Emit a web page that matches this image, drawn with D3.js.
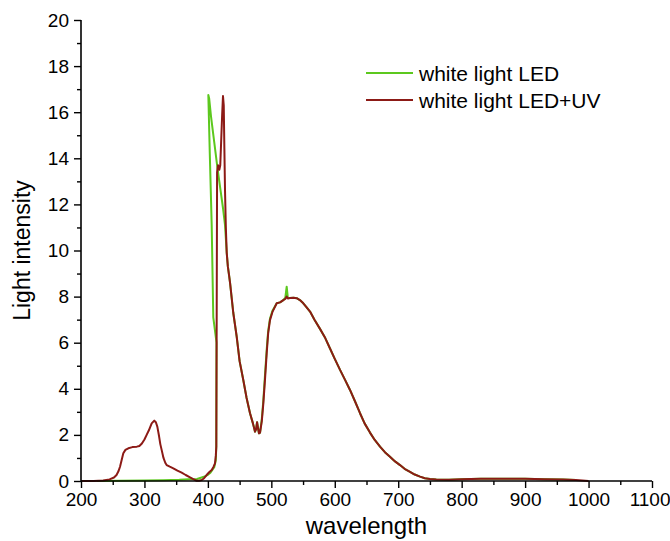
<!DOCTYPE html>
<html><head><meta charset="utf-8">
<script src="https://cdn.jsdelivr.net/npm/d3@7"></script>
<style>
body{margin:0;background:#fff}
svg{display:block}
text{font-family:"Liberation Sans",Arial,sans-serif;fill:#000}
</style>
</head><body>
<svg id="chart" width="670" height="541"></svg>
<script>
// ---- data ----
const seriesNames = ["white light LED", "white light LED+UV"];
const seriesColors = ["#5cc81e", "#8c1a16"];

const xTickValues = [200, 300, 400, 500, 600, 700, 800, 900, 1000, 1100];
const yTickValues = [0, 2, 4, 6, 8, 10, 12, 14, 16, 18, 20];

// white light LED+UV (red)
const uvWavelength = [200,220,235,245,252,256,259,261.5,264,266.7,270,274.6,281,288,292,296,300,303.5,307,311.4,315.5,318,320.3,323,325,327.2,330,333,335,340,345.5,352,358.7,365,371.8,377,382.4,386,390.3,394,398,402,406,409,411.2,412.5,413.3,414.5,416,418,419.5,421,422.5,423.8,425,426,427,428.3,429.7,431.5,433.5,435,440,445.4,450,455.8,461,466.4,471,474.3,476,477.5,479,480.5,482.2,485,487.4,490,492.7,495,497.9,502,508.5,513.7,518.9,522,524.2,526,529.4,535,540,545,550.4,555,561,568,576.7,585,592.5,600,608.3,616,624,632,639.8,647,655.5,663,671.3,679,687,695,702.8,710,718.6,726,734.4,742,750,760,780,800,830,860,900,930,960,980,1000];
const uvIntensity = [0,0,0.02,0.07,0.15,0.26,0.42,0.62,0.9,1.2,1.35,1.42,1.47,1.49,1.52,1.63,1.8,2.0,2.2,2.5,2.62,2.55,2.36,1.95,1.6,1.34,1.0,0.78,0.69,0.62,0.55,0.45,0.36,0.26,0.16,0.08,0.01,0.01,0.04,0.12,0.26,0.38,0.48,0.62,0.77,1.1,1.5,13.4,13.7,13.5,13.7,14.8,15.9,16.7,16.3,14.4,12.6,11.0,9.9,9.3,8.9,8.58,7.3,6.26,5.2,4.38,3.6,2.94,2.5,2.14,2.25,2.55,2.3,2.07,2.1,2.6,3.37,4.4,5.54,6.4,6.98,7.35,7.71,7.75,7.85,7.9,8.0,7.92,7.94,7.95,7.93,7.85,7.71,7.55,7.35,7.0,6.6,6.2,5.75,5.3,4.82,4.4,3.95,3.45,2.94,2.5,2.1,1.78,1.49,1.25,1.05,0.85,0.69,0.53,0.40,0.28,0.19,0.12,0.09,0.07,0.05,0.08,0.1,0.1,0.1,0.08,0.06,0.04,0];

// white light LED (green)
const ledWavelength = [225,260,300,330,355,370,383,390,395,400,404,407,410,412.5,413.2,413.6,408.5,406,403,400.7,402,405,410,415,420,424,427,429.7,431.5,433.5,435,440,445.4,450,455.8,461,466.4,471,474.3,476,477.5,479,480.5,482.2,485,487.4,490,492.7,495,497.9,502,508.5,513.7,518.9,522,524.2,526,529.4,535,540,545,550.4,555,561,568,576.7,585,592.5,600,608.3,616,624,632,639.8,647,655.5,663,671.3,679,687,695,702.8,710,718.6,726,734.4,742,750,760,780,800,830,860,900,930,960,980];
const ledIntensity = [0,0.01,0.02,0.03,0.05,0.08,0.09,0.15,0.2,0.27,0.36,0.48,0.6,0.9,1.5,6.0,7.1,11.1,14.2,16.75,16.6,15.8,14.7,13.6,12.6,11.8,11.1,9.9,9.3,8.9,8.58,7.3,6.26,5.2,4.38,3.6,2.94,2.5,2.14,2.25,2.55,2.3,2.07,2.1,2.7,3.5,4.6,5.7,6.5,7.05,7.4,7.71,7.75,7.85,7.95,8.43,7.95,7.94,7.95,7.93,7.85,7.71,7.55,7.35,7.0,6.6,6.2,5.75,5.3,4.82,4.4,3.95,3.45,2.94,2.5,2.1,1.78,1.49,1.25,1.05,0.85,0.69,0.53,0.40,0.28,0.19,0.12,0.09,0.07,0.05,0.08,0.1,0.1,0.1,0.08,0.06,0.04];

// ---- chart ----
const svg = d3.select("#chart");
const x = d3.scaleLinear().domain([200, 1100]).range([81, 652]);
const y = d3.scaleLinear().domain([0, 20]).range([481, 20]);

const line = d3.line().x(d => x(d[0])).y(d => y(d[1]));
const ledData = ledWavelength.map((w, i) => [w, ledIntensity[i]]);
const uvData = uvWavelength.map((w, i) => [w, uvIntensity[i]]);

svg.append("path").datum(ledData).attr("d", line)
  .attr("fill", "none").attr("stroke", seriesColors[0]).attr("stroke-width", 2).attr("stroke-linejoin", "round");
svg.append("path").datum(uvData).attr("d", line)
  .attr("fill", "none").attr("stroke", seriesColors[1]).attr("stroke-width", 2).attr("stroke-linejoin", "round");

// axes
const fontSize = 19;
const xMinor = d3.range(250, 1100, 100);
const yMinor = d3.range(1, 20, 2);

const xAxis = svg.append("g").attr("transform", `translate(0,${y(0)})`)
  .call(d3.axisBottom(x).tickValues(xTickValues).tickSize(7).tickPadding(5).tickFormat(d3.format("d")));
xAxis.append("g").call(d3.axisBottom(x).tickValues(xMinor).tickSize(4).tickFormat(""))
  .select(".domain").remove();
const yAxis = svg.append("g").attr("transform", `translate(${x(200)},0)`)
  .call(d3.axisLeft(y).tickValues(yTickValues).tickSize(7).tickPadding(5).tickFormat(d3.format("d")));
yAxis.append("g").call(d3.axisLeft(y).tickValues(yMinor).tickSize(4).tickFormat(""))
  .select(".domain").remove();

[xAxis, yAxis].forEach(g => {
  g.selectAll(".domain").attr("stroke", "#000").attr("stroke-width", 1.6);
  g.selectAll(".tick line").attr("stroke", "#000").attr("stroke-width", 1.4);
  g.selectAll(".tick text").style("font-size", fontSize + "px")
    .style("font-family", '"Liberation Sans", Arial, sans-serif').attr("fill", "#000");
});
// keep the last x label inside the page
xAxis.selectAll(".tick text").filter(d => d === 1100).attr("text-anchor", "end").attr("dx", 18);
xAxis.selectAll(".domain").attr("d", `M${x(200)},0H${x(1100)}`);
yAxis.selectAll(".domain").attr("d", `M0,${y(0)}V${y(20)}`);

// axis titles
svg.append("text").attr("x", x(650)).attr("y", 534).attr("text-anchor", "middle")
  .style("font-size", "24px").text("wavelength");
svg.append("text").attr("transform", `translate(30,${y(10)}) rotate(-90)`).attr("text-anchor", "middle")
  .style("font-size", "23px").text("Light intensity");

// legend
const legend = svg.append("g");
seriesNames.forEach((name, i) => {
  const yy = 73 + i * 27;
  legend.append("line").attr("x1", 366).attr("x2", 413).attr("y1", yy).attr("y2", yy)
    .attr("stroke", seriesColors[i]).attr("stroke-width", 2);
  legend.append("text").attr("x", 419).attr("y", yy + 7.5).style("font-size", "21px").text(name);
});
</script>
</body></html>
